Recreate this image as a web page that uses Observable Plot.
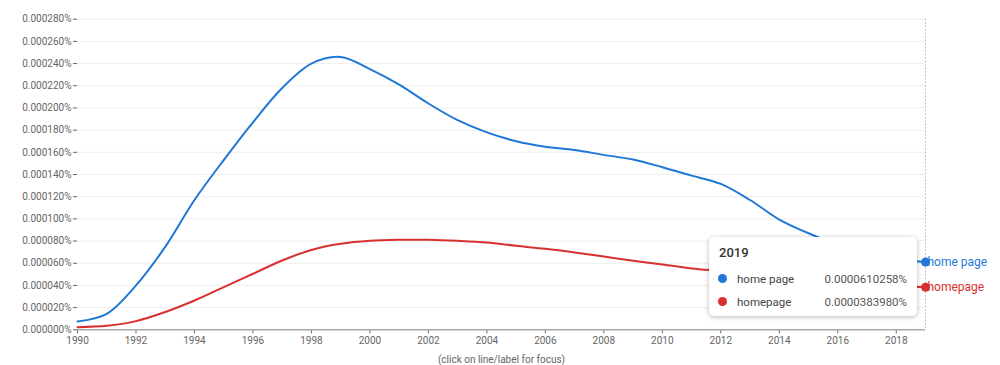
<!DOCTYPE html>
<html><head><meta charset="utf-8">
<script src="https://cdn.jsdelivr.net/npm/d3@7"></script>
<script src="https://cdn.jsdelivr.net/npm/@observablehq/plot@0.6"></script>
<style>
body{margin:0;background:#fff;font-family:Roboto,sans-serif;}
#wrap{position:relative;width:1000px;height:365px;overflow:hidden;}
#tip{position:absolute;left:709px;top:237px;width:208px;height:79px;background:#fff;border-radius:5px;box-shadow:0 1px 5px rgba(0,0,0,0.28);font-family:Roboto,sans-serif;color:#444;}
#tip .t{position:absolute;left:10px;top:8px;height:16px;line-height:16px;font-size:13px;font-weight:500;color:#333;}
#tip .n{position:absolute;left:28px;height:16px;line-height:16px;font-size:11.5px;color:#444;}
#tip .v{position:absolute;right:10px;height:16px;line-height:16px;font-size:11.5px;color:#555;}
#tip .d{position:absolute;left:8.5px;width:9px;height:9px;border-radius:50%;}
</style></head><body><div id="wrap"></div>
<script>
const years = [1990,1991,1992,1993,1994,1995,1996,1997,1998,1999,2000,2001,2002,2003,2004,2005,2006,2007,2008,2009,2010,2011,2012,2013,2014,2015,2016,2017,2018,2019];
const series = ["home page","homepage"];
const colors = ["#1f78d6","#d8302e"];
// values in percent
const homePage = [0.0000075,0.0000144,0.0000400,0.0000748,0.0001170,0.0001530,0.0001870,0.0002180,0.0002400,0.0002460,0.0002350,0.0002210,0.0002040,0.0001890,0.0001780,0.0001700,0.0001650,0.0001620,0.0001577,0.0001535,0.0001466,0.0001390,0.0001315,0.0001170,0.0000994,0.0000870,0.0000765,0.0000695,0.0000640,0.0000610258];
const homepage = [0.0000024,0.0000036,0.0000078,0.0000160,0.0000264,0.0000385,0.0000505,0.0000625,0.0000720,0.0000775,0.0000802,0.0000811,0.0000811,0.0000802,0.0000787,0.0000757,0.0000730,0.0000697,0.0000660,0.0000622,0.0000589,0.0000553,0.0000530,0.0000505,0.0000480,0.0000455,0.0000432,0.0000412,0.0000396,0.0000383980];
const xTicks = [1990,1992,1994,1996,1998,2000,2002,2004,2006,2008,2010,2012,2014,2016,2018];
const yTicks = [0,0.00002,0.00004,0.00006,0.00008,0.0001,0.00012,0.00014,0.00016,0.00018,0.0002,0.00022,0.00024,0.00026,0.00028];
const caption = "(click on line/label for focus)";

const values = [homePage, homepage];
const data = [];
series.forEach((s, k) => years.forEach((y, i) => data.push({year: y, v: values[k][i], s})));
const lastIdx = years.length - 1;
const last = series.map((s, k) => ({year: years[lastIdx], v: values[k][lastIdx], s}));

const chart = Plot.plot({
  width: 1000, height: 365,
  marginLeft: 77, marginRight: 75, marginTop: 18.7, marginBottom: 35.7,
  style: {fontFamily: "Roboto, sans-serif", fontSize: "10px", color: "#666", background: "white"},
  x: {domain: [1990, 2019], ticks: xTicks, tickFormat: d => String(d), tickSize: 4, tickPadding: 3, label: null},
  y: {domain: [0, 0.00028], ticks: yTicks, tickFormat: d => d.toFixed(6) + "%", tickSize: 4, tickPadding: 2, label: null},
  color: {domain: series, range: colors},
  marks: [
    Plot.ruleY(yTicks.slice(1), {stroke: "#eeeeee", strokeWidth: 1}),
    Plot.ruleX([2019], {stroke: "#b0b0b0", strokeDasharray: "1.5,2"}),
    Plot.ruleY([0], {stroke: "#aaaaaa", strokeWidth: 1.5}),
    Plot.lineY(data, {x: "year", y: "v", stroke: "s", z: "s", strokeWidth: 2, curve: "catmull-rom"}),
    Plot.dot(last, {x: "year", y: "v", fill: "s", r: 4.5}),
    Plot.text(last, {x: "year", y: "v", text: "s", fill: "s", textAnchor: "start", dx: 2, fontSize: 12}),
    Plot.text([caption], {frameAnchor: "bottom", dy: 33, lineAnchor: "bottom", fill: "#666", fontSize: 10})
  ]
});
const wrap = document.getElementById("wrap");
wrap.appendChild(chart);

// tooltip built from the data
const tip = document.createElement("div");
tip.id = "tip";
let html = `<div class="t">${years[lastIdx]}</div>`;
const rowTops = [33.5, 56.9];
series.forEach((s, k) => {
  const top = rowTops[k];
  html += `<div class="d" style="top:${top + 3.3}px;background:${colors[k]}"></div>`;
  html += `<div class="n" style="top:${top}px">${s}</div>`;
  html += `<div class="v" style="top:${top}px">${values[k][lastIdx].toFixed(10)}%</div>`;
});
tip.innerHTML = html;
wrap.appendChild(tip);
</script>
</body></html>
